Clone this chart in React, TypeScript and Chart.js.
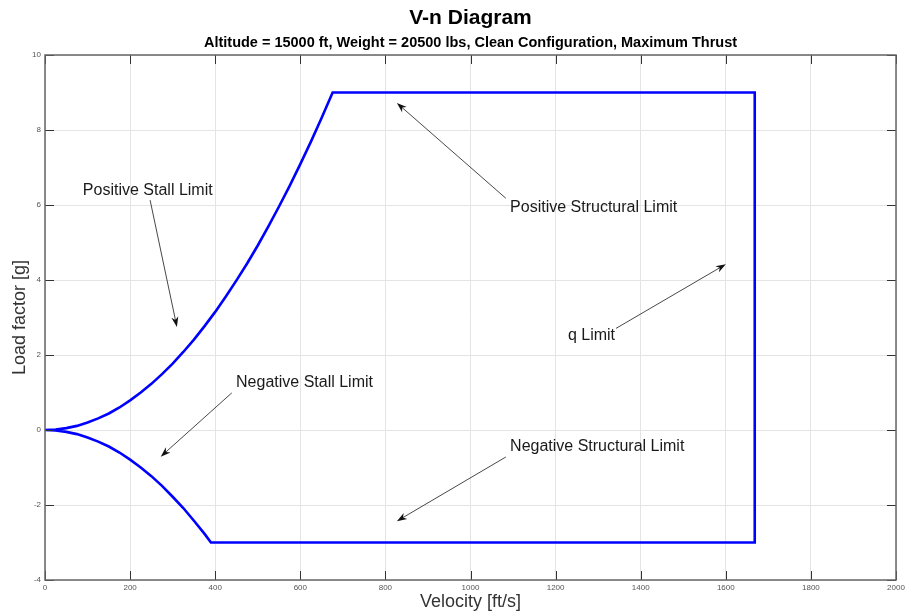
import React, { useEffect, useRef } from 'react';
import { Chart, registerables } from 'chart.js';

Chart.register(...registerables);

// ---- Data ----
const posStallV = [0, 25, 50, 75, 100, 125, 150, 175, 200, 225, 250, 275, 300, 325, 350, 375, 400, 425, 450, 475, 500, 525, 550, 575, 600, 625, 650, 676];
const posStallN = [0, 0.01, 0.05, 0.11, 0.2, 0.31, 0.44, 0.6, 0.79, 1.0, 1.23, 1.49, 1.77, 2.08, 2.41, 2.77, 3.15, 3.56, 3.99, 4.44, 4.92, 5.43, 5.96, 6.51, 7.09, 7.69, 8.32, 9.0];
const structV = [676, 1668, 1668, 390];
const structN = [9, 9, -3, -3];
const negStallV = [390, 375, 350, 325, 300, 275, 250, 225, 200, 175, 150, 125, 100, 75, 50, 25, 0];
const negStallN = [-3.0, -2.77, -2.42, -2.08, -1.78, -1.49, -1.23, -1.0, -0.79, -0.6, -0.44, -0.31, -0.2, -0.11, -0.05, -0.01, 0];

const xTicks = [0, 200, 400, 600, 800, 1000, 1200, 1400, 1600, 1800, 2000];
const yTicks = [-4, -2, 0, 2, 4, 6, 8, 10];

const titleText = 'V-n Diagram';
const subtitleText = 'Altitude = 15000 ft, Weight = 20500 lbs, Clean Configuration, Maximum Thrust';
const xLabel = 'Velocity [ft/s]';
const yLabel = 'Load factor [g]';

const annLabels = ['Positive Stall Limit', 'Negative Stall Limit', 'Positive Structural Limit', 'q Limit', 'Negative Structural Limit'];
const annTextV = [89, 449, 1093, 1229, 1093];
const annTextN = [6.38, 1.27, 5.94, 2.51, -0.45];
const arrowFromV = [247, 439, 1083, 1342, 1083];
const arrowFromN = [6.13, 0.99, 6.18, 2.71, -0.72];
const arrowToV = [310, 272, 827, 1600, 827];
const arrowToN = [2.75, -0.71, 8.72, 4.42, -2.43];

const FONT = "'Liberation Sans', Arial, Helvetica, sans-serif";

const envelope = [
  ...posStallV.map((v, i) => ({ x: v, y: posStallN[i] })),
  ...structV.map((v, i) => ({ x: v, y: structN[i] })),
  ...negStallV.map((v, i) => ({ x: v, y: negStallN[i] })),
];

const decorPlugin = {
  id: 'decor',
  afterDraw(chart: any) {
    const { ctx, chartArea: a, scales } = chart;
    const xs = scales.x;
    const ys = scales.y;
    ctx.save();

    // inward tick marks
    ctx.strokeStyle = '#333';
    ctx.lineWidth = 1;
    const tl = 9;
    ctx.beginPath();
    xTicks.forEach((t) => {
      const px = Math.round(xs.getPixelForValue(t)) + 0.5;
      ctx.moveTo(px, a.bottom);
      ctx.lineTo(px, a.bottom - tl);
      ctx.moveTo(px, a.top);
      ctx.lineTo(px, a.top + tl);
    });
    yTicks.forEach((t) => {
      const py = Math.round(ys.getPixelForValue(t)) + 0.5;
      ctx.moveTo(a.left, py);
      ctx.lineTo(a.left + tl, py);
      ctx.moveTo(a.right, py);
      ctx.lineTo(a.right - tl, py);
    });
    ctx.stroke();

    // box
    ctx.strokeStyle = '#666';
    ctx.lineWidth = 1.5;
    ctx.strokeRect(a.left, a.top, a.right - a.left, a.bottom - a.top);

    // annotations
    ctx.fillStyle = '#1a1a1a';
    ctx.font = `16px ${FONT}`;
    ctx.textAlign = 'left';
    ctx.textBaseline = 'middle';
    annLabels.forEach((lab, i) => {
      ctx.fillText(lab, xs.getPixelForValue(annTextV[i]), ys.getPixelForValue(annTextN[i]));
    });
    annLabels.forEach((_, i) => {
      const x0 = xs.getPixelForValue(arrowFromV[i]);
      const y0 = ys.getPixelForValue(arrowFromN[i]);
      const x1 = xs.getPixelForValue(arrowToV[i]);
      const y1 = ys.getPixelForValue(arrowToN[i]);
      const ang = Math.atan2(y1 - y0, x1 - x0);
      const hl = 10;
      const hw = 3.5;
      ctx.strokeStyle = '#333';
      ctx.lineWidth = 0.9;
      ctx.beginPath();
      ctx.moveTo(x0, y0);
      ctx.lineTo(x1 - Math.cos(ang) * hl * 0.6, y1 - Math.sin(ang) * hl * 0.6);
      ctx.stroke();
      const bx = x1 - Math.cos(ang) * hl;
      const by = y1 - Math.sin(ang) * hl;
      const nx = x1 - Math.cos(ang) * hl * 0.7;
      const ny = y1 - Math.sin(ang) * hl * 0.7;
      const px = -Math.sin(ang);
      const py = Math.cos(ang);
      ctx.fillStyle = '#111';
      ctx.beginPath();
      ctx.moveTo(x1, y1);
      ctx.lineTo(bx + px * hw, by + py * hw);
      ctx.lineTo(nx, ny);
      ctx.lineTo(bx - px * hw, by - py * hw);
      ctx.closePath();
      ctx.fill();
    });

    // titles
    const cx = (a.left + a.right) / 2;
    ctx.fillStyle = '#000';
    ctx.textAlign = 'center';
    ctx.textBaseline = 'middle';
    ctx.font = `bold 21px ${FONT}`;
    ctx.fillText(titleText, cx, 18);
    ctx.font = `bold 14.5px ${FONT}`;
    ctx.fillText(subtitleText, cx, 43);

    ctx.fillStyle = '#333';
    ctx.font = `18px ${FONT}`;
    ctx.fillText(xLabel, cx, 602);
    ctx.save();
    ctx.translate(20, (a.top + a.bottom) / 2);
    ctx.rotate(-Math.PI / 2);
    ctx.fillText(yLabel, 0, 0);
    ctx.restore();

    ctx.restore();
  },
};

export default function App() {
  const ref = useRef<HTMLCanvasElement | null>(null);
  useEffect(() => {
    if (!ref.current) return;
    const chart = new Chart(ref.current, {
      type: 'scatter',
      data: {
        datasets: [
          {
            data: envelope,
            showLine: true,
            borderColor: '#0000ff',
            backgroundColor: '#0000ff',
            borderWidth: 2.6,
            pointRadius: 0,
            fill: false,
            tension: 0,
            borderJoinStyle: 'miter',
          } as any,
        ],
      },
      options: {
        responsive: false,
        animation: false,
        devicePixelRatio: 1,
        layout: { padding: { top: 55, right: 12, left: 0, bottom: 0 } },
        plugins: { legend: { display: false }, tooltip: { enabled: false }, title: { display: false } },
        scales: {
          x: {
            type: 'linear',
            min: 0,
            max: 2000,
            afterBuildTicks: (s: any) => {
              s.ticks = xTicks.map((v) => ({ value: v }));
            },
            afterFit: (s: any) => {
              s.height = 36;
            },
            ticks: {
              autoSkip: false,
              maxRotation: 0,
              padding: 3,
              color: '#555',
              font: { size: 8, family: FONT },
              callback: (v: any) => String(v),
            },
            grid: { color: '#e4e4e4', lineWidth: 1, drawTicks: false },
            border: { display: false },
          },
          y: {
            type: 'linear',
            min: -4,
            max: 10,
            afterBuildTicks: (s: any) => {
              s.ticks = yTicks.map((v) => ({ value: v }));
            },
            afterFit: (s: any) => {
              s.width = 45;
            },
            ticks: {
              autoSkip: false,
              padding: 4,
              color: '#555',
              font: { size: 8, family: FONT },
              callback: (v: any) => String(v),
            },
            grid: { color: '#e4e4e4', lineWidth: 1, drawTicks: false },
            border: { display: false },
          },
        },
      },
      plugins: [decorPlugin],
    });
    return () => chart.destroy();
  }, []);
  return (
    <div style={{ position: 'absolute', left: 0, top: 0, width: 908, height: 616, background: '#fff' }}>
      <canvas ref={ref} width={908} height={616} style={{ display: 'block' }} />
    </div>
  );
}
